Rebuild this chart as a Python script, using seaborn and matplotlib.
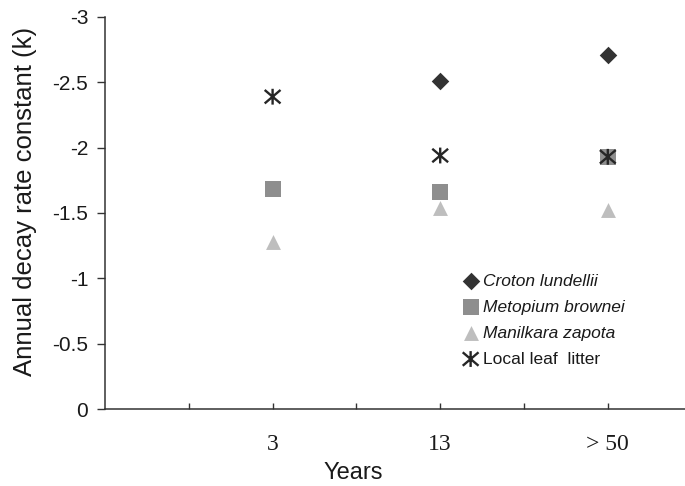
import numpy as np
import pandas as pd
import seaborn as sns
import matplotlib.pyplot as plt
from matplotlib.path import Path

# categories on the x axis (each sits on every second tick)
years = ["3", "13", "> 50"]

# annual decay rate constant k per species (None = not measured)
croton = [None, -2.51, -2.71]
metopium = [-1.68, -1.66, -1.93]
manilkara = [-1.28, -1.54, -1.52]
local_litter = [-2.39, -1.94, -1.93]

series_names = ["Croton lundellii", "Metopium brownei", "Manilkara zapota", "Local leaf  litter"]

# excel style asterisk: an X with a vertical bar
asterisk = Path([(0, -1), (0, 1), (-1, -0.85), (1, 0.85), (-1, 0.85), (1, -0.85)],
                [Path.MOVETO, Path.LINETO, Path.MOVETO, Path.LINETO, Path.MOVETO, Path.LINETO])

rows = []
for name, vals in zip(series_names, [croton, metopium, manilkara, local_litter]):
    for i, v in enumerate(vals):
        if v is not None:
            rows.append({"series": name, "pos": 2 * (i + 1), "k": v})
df = pd.DataFrame(rows)

sns.set_style("white")
plt.rcParams["font.family"] = ["Liberation Sans", "DejaVu Sans"]
plt.rcParams["text.color"] = "#1a1a1a"
plt.rcParams["axes.labelcolor"] = "#1a1a1a"
plt.rcParams["xtick.color"] = "#1a1a1a"
plt.rcParams["ytick.color"] = "#1a1a1a"

fig = plt.figure(figsize=(6.85, 4.86), dpi=100)
ax = fig.add_axes([105 / 685, 77 / 486, 580 / 685, 392 / 486])

styles = {
    "Croton lundellii": dict(marker="D", color="#333333", s=80),
    "Metopium brownei": dict(marker="s", color="#8e8e8e", s=140),
    "Manilkara zapota": dict(marker="^", color="#bebebe", s=115),
    "Local leaf  litter": dict(marker=asterisk, color="#262626", s=130),
}

# plot metopium first so the asterisk sits on top of it at > 50
for name in ["Metopium brownei", "Manilkara zapota", "Croton lundellii", "Local leaf  litter"]:
    st = styles[name]
    sub = df[df["series"] == name]
    if name == "Local leaf  litter":
        sns.scatterplot(data=sub, x="pos", y="k", marker=st["marker"], s=st["s"],
                        facecolor="none", edgecolor=st["color"], linewidth=1.7, ax=ax, label=name, zorder=4)
    else:
        sns.scatterplot(data=sub, x="pos", y="k", marker=st["marker"], s=st["s"],
                        color=st["color"], edgecolor=st["color"], linewidth=0, ax=ax, label=name, zorder=3)

ax.set_xlim(0, 580 / 83.8)
ax.set_ylim(0, -3)
ax.set_yticks(np.arange(0, -3.01, -0.5))
ax.set_yticklabels(["0", "-0.5", "-1", "-1.5", "-2", "-2.5", "-3"])
ax.set_xticks(np.arange(1, 7))
ax.set_xticklabels(["", years[0], "", years[1], "", years[2]], family="Liberation Serif", fontsize=17)

for side in ["top", "right"]:
    ax.spines[side].set_visible(False)
for side in ["left", "bottom"]:
    ax.spines[side].set_color("#333333")
    ax.spines[side].set_linewidth(1.1)

ax.tick_params(axis="x", bottom=True, direction="in", length=4, width=1, color="#333333", pad=18)
ax.tick_params(axis="y", left=True, direction="out", length=6, width=1, color="#333333", pad=6, labelsize=15)

ax.set_xlabel("Years", fontsize=17)
ax.set_ylabel("Annual decay rate constant (k)", fontsize=18.5)
ax.xaxis.set_label_coords(0.428, -0.135)
ax.yaxis.set_label_coords(-0.118, 0.53)

handles, labels = ax.get_legend_handles_labels()
order = [labels.index(n) for n in series_names]
leg = ax.legend([handles[i] for i in order], [labels[i] for i in order],
                loc="upper left", bbox_to_anchor=(455 / 685, 1 - 265 / 486),
                bbox_transform=fig.transFigure, frameon=False, fontsize=12.5,
                handlelength=0.8, handletextpad=0.3, labelspacing=0.62, borderpad=0)
for t in leg.get_texts()[:3]:
    t.set_style("italic")

fig.savefig("out.png", dpi=100)
